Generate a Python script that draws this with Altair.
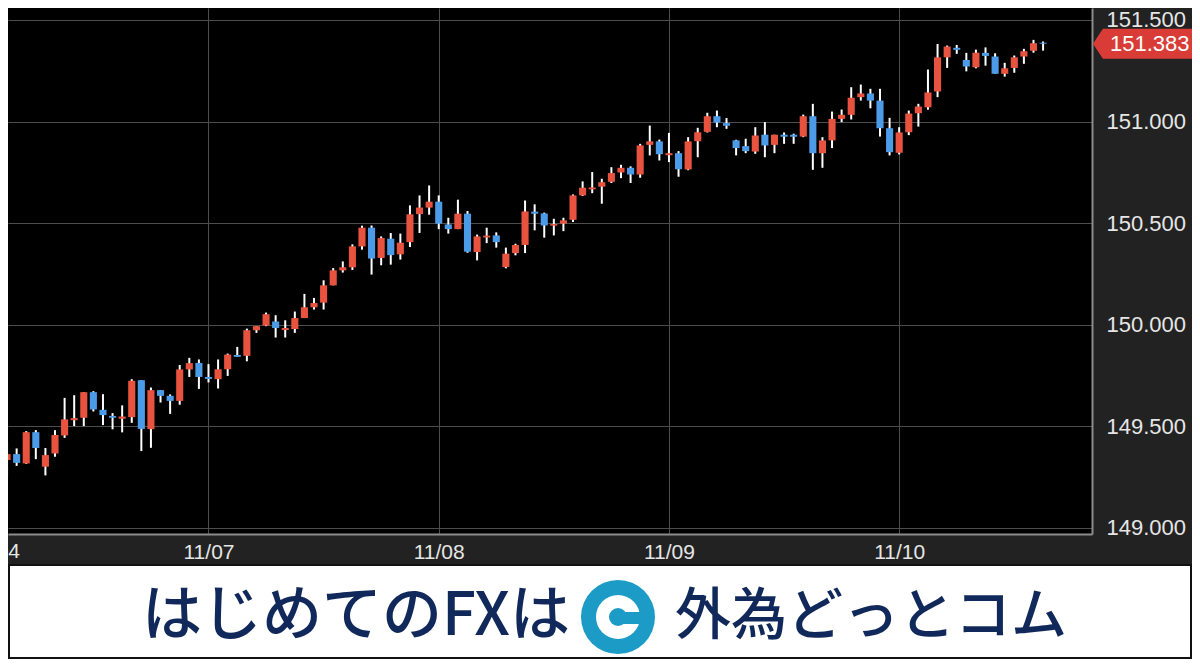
import altair as alt
import pandas as pd

# ---------------- data (hourly USD/JPY candles) ----------------
opens = [149.333, 149.362, 149.316, 149.470, 149.300, 149.365, 149.454, 149.529, 149.541, 149.667,
         149.580, 149.550, 149.536, 149.544, 149.726, 149.485, 149.677, 149.649, 149.624, 149.779,
         149.811, 149.742, 149.731, 149.780, 149.850, 149.846, 149.972, 149.995, 150.015, 149.973,
         149.978, 150.032, 150.085, 150.108, 150.193, 150.267, 150.282, 150.385, 150.477, 150.328,
         150.423, 150.346, 150.406, 150.544, 150.576, 150.605, 150.493, 150.470, 150.546, 150.357,
         150.429, 150.439, 150.283, 150.352, 150.392, 150.556, 150.547, 150.487, 150.497, 150.516,
         150.636, 150.666, 150.679, 150.703, 150.749, 150.772, 150.739, 150.885, 150.902, 150.834,
         150.844, 150.764, 150.903, 150.949, 151.026, 150.992, 150.907, 150.879, 150.852, 150.935,
         150.885, 150.935, 150.935, 150.926, 151.026, 150.844, 150.907, 151.013, 151.033, 151.120,
         151.138, 151.103, 150.967, 150.846, 150.947, 151.041, 151.070, 151.148, 151.316, 151.363,
         151.303, 151.267, 151.338, 151.320, 151.235, 151.264, 151.320, 151.349, 151.388]
closes = [149.362, 149.319, 149.470, 149.392, 149.357, 149.456, 149.533, 149.539, 149.667, 149.582,
          149.554, 149.541, 149.547, 149.723, 149.486, 149.677, 149.649, 149.624, 149.779, 149.810,
          149.742, 149.732, 149.780, 149.852, 149.841, 149.972, 149.992, 150.051, 149.983, 149.983,
          150.032, 150.085, 150.106, 150.193, 150.267, 150.282, 150.385, 150.477, 150.325, 150.426,
          150.342, 150.403, 150.543, 150.576, 150.605, 150.497, 150.470, 150.546, 150.359, 150.434,
          150.438, 150.406, 150.349, 150.392, 150.557, 150.546, 150.488, 150.495, 150.513, 150.636,
          150.674, 150.675, 150.701, 150.746, 150.772, 150.739, 150.882, 150.902, 150.839, 150.844,
          150.765, 150.902, 150.947, 151.026, 150.995, 150.979, 150.869, 150.854, 150.931, 150.882,
          150.935, 150.925, 150.925, 151.026, 150.844, 150.907, 151.013, 151.033, 151.117, 151.138,
          151.103, 150.967, 150.849, 150.946, 151.039, 151.074, 151.143, 151.316, 151.369, 151.353,
          151.271, 151.339, 151.323, 151.235, 151.262, 151.316, 151.346, 151.385, 151.383]
highs = [149.420, 149.390, 149.475, 149.480, 149.392, 149.480, 149.639, 149.652, 149.667, 149.672,
         149.657, 149.564, 149.602, 149.731, 149.726, 149.690, 149.677, 149.656, 149.801, 149.836,
         149.828, 149.805, 149.828, 149.857, 149.890, 149.980, 149.992, 150.059, 150.046, 150.021,
         150.064, 150.151, 150.131, 150.218, 150.278, 150.311, 150.395, 150.487, 150.488, 150.434,
         150.451, 150.448, 150.587, 150.636, 150.685, 150.636, 150.526, 150.615, 150.559, 150.443,
         150.477, 150.454, 150.379, 150.398, 150.611, 150.592, 150.551, 150.521, 150.526, 150.641,
         150.705, 150.751, 150.718, 150.775, 150.787, 150.779, 150.890, 150.980, 150.911, 150.944,
         150.854, 150.923, 150.969, 151.043, 151.054, 151.017, 150.910, 150.915, 150.972, 150.997,
         150.935, 150.946, 150.940, 151.034, 151.087, 150.923, 151.049, 151.059, 151.169, 151.182,
         151.161, 151.161, 151.018, 150.972, 151.054, 151.087, 151.256, 151.382, 151.374, 151.377,
         151.338, 151.354, 151.365, 151.336, 151.289, 151.325, 151.358, 151.402, 151.394]
lows = [149.250, 149.304, 149.314, 149.337, 149.257, 149.349, 149.442, 149.500, 149.500, 149.572,
        149.505, 149.484, 149.469, 149.516, 149.377, 149.393, 149.616, 149.560, 149.605, 149.742,
        149.683, 149.715, 149.685, 149.747, 149.841, 149.819, 149.959, 149.992, 149.936, 149.936,
        149.959, 150.032, 150.074, 150.074, 150.193, 150.256, 150.269, 150.369, 150.246, 150.292,
        150.295, 150.320, 150.382, 150.451, 150.541, 150.470, 150.448, 150.470, 150.354, 150.316,
        150.401, 150.379, 150.277, 150.341, 150.352, 150.464, 150.428, 150.439, 150.460, 150.505,
        150.633, 150.647, 150.595, 150.697, 150.721, 150.697, 150.723, 150.833, 150.808, 150.800,
        150.728, 150.760, 150.824, 150.946, 150.972, 150.964, 150.833, 150.844, 150.841, 150.824,
        150.844, 150.890, 150.890, 150.923, 150.762, 150.772, 150.869, 150.997, 151.010, 151.103,
        151.065, 150.926, 150.833, 150.838, 150.933, 150.975, 151.058, 151.120, 151.264, 151.333,
        151.247, 151.262, 151.275, 151.235, 151.221, 151.240, 151.284, 151.339, 151.349]

day_index = [21, 45, 69, 93]
day_labels = ["11/07", "11/08", "11/09", "11/10"]
prev_day_label = ["11/04"]
y_ticks = [149.0, 149.5, 150.0, 150.5, 151.0, 151.5]
banner_left = ["はじめてのFXは"]
banner_right = ["外為どっとコム"]

# ---------------- styling ----------------
RED = "#E8533F"
BLUE = "#4C9BE8"
TAG_RED = "#D93C36"
NAVY = "#10285A"
LOGO = "#1B9BC6"
LABEL = "#E6E6E6"
FONT = "Liberation Sans"
JFONT = "Noto Sans CJK JP"

W, H = 1084, 526
PAD_R, PAD_B = 100, 125

n = len(opens)
df = pd.DataFrame({"i": list(range(n)), "open": opens, "high": highs,
                   "low": lows, "close": closes})

label_expr = " : ".join(f"datum.value == {v} ? '{l}'" for v, l in zip(day_index, day_labels)) + " : ''"

xscale = alt.Scale(domain=[0.1, 113.1], nice=False, zero=False)
yscale = alt.Scale(domain=[148.9685, 151.559], nice=False, zero=False)
xaxis = alt.Axis(values=day_index, labelExpr=label_expr, title=None, grid=True,
                 gridColor="#4d4d4d", gridWidth=1, ticks=False, domainColor="#8c8c8c",
                 domainWidth=2, labelColor=LABEL, labelFontSize=21, labelFont=FONT,
                 labelPadding=7, labelFlush=False, labelOverlap=False)
yaxis = alt.Axis(orient="right", values=y_ticks, format=".3f", title=None, grid=True,
                 gridColor="#4d4d4d", gridWidth=1, ticks=False, domainColor="#8c8c8c",
                 domainWidth=2, labelColor=LABEL, labelFontSize=22, labelFont=FONT,
                 labelPadding=14, labelFlush=False, labelOverlap=False)

base = alt.Chart(df)

wicks = base.mark_rule(color="#ffffff", strokeWidth=2, clip=True).encode(
    x=alt.X("i:Q", scale=xscale, axis=xaxis),
    y=alt.Y("low:Q", scale=yscale, axis=yaxis),
    y2="high:Q",
)

bodies = base.transform_calculate(
    x0="datum.i - 0.37", x1="datum.i + 0.37",
    top="max(datum.open, datum.close)", bot="min(datum.open, datum.close)",
    up="datum.close >= datum.open ? 'up' : 'down'",
).mark_rect(clip=True).encode(
    x=alt.X("x0:Q", scale=xscale, axis=xaxis),
    x2="x1:Q",
    y=alt.Y("bot:Q", scale=yscale, axis=yaxis),
    y2="top:Q",
    color=alt.Color("up:N", scale=alt.Scale(domain=["up", "down"], range=[RED, BLUE]), legend=None),
)

TAG_PATH = "M-1,0L-0.8,-0.303L1,-0.303L1,0.303L-0.8,0.303Z"
last = base.transform_filter(f"datum.i == {n - 1}")
tag = last.mark_point(shape=TAG_PATH, filled=True, fill=TAG_RED, opacity=1,
                      size=99 * 99, strokeWidth=0).encode(
    x=alt.value(1134.5),
    y=alt.Y("close:Q", scale=yscale, axis=yaxis),
)
tag_text = last.mark_text(align="left", baseline="middle", font=FONT, fontSize=22,
                          color="#ffffff").encode(
    x=alt.value(1102),
    y=alt.Y("close:Q", scale=yscale, axis=yaxis),
    text=alt.Text("close:Q", format=".3f"),
)

prev_label = alt.Chart(pd.DataFrame({"label": prev_day_label})).mark_text(
    align="right", baseline="top", font=FONT, fontSize=21, color=LABEL
).encode(x=alt.value(12), y=alt.value(H + 7), text="label:N")

# ---------------- banner ----------------
one = pd.DataFrame({"a": [0]})
banner_box = alt.Chart(one).mark_rect(fill="#ffffff", stroke="#111111", strokeWidth=2).encode(
    x=alt.value(1), x2=alt.value(W + PAD_R - 1), y=alt.value(H + 31), y2=alt.value(H + PAD_B - 1)
)
txt_left = alt.Chart(pd.DataFrame({"t": banner_left})).mark_text(
    align="right", baseline="middle", font=JFONT, fontSize=60, fontWeight=500, color=NAVY
).encode(x=alt.value(562), y=alt.value(609), text="t:N")
txt_right = alt.Chart(pd.DataFrame({"t": banner_right})).mark_text(
    align="left", baseline="middle", font=JFONT, fontSize=56, fontWeight=500, color=NAVY
).encode(x=alt.value(667), y=alt.value(609), text="t:N")

logo_outer = alt.Chart(one).mark_point(shape="circle", filled=True, opacity=1, color=LOGO,
                                       size=74 * 74).encode(x=alt.value(610), y=alt.value(609))
logo_ring = alt.Chart(one).mark_point(shape="circle", filled=True, opacity=1, color="#ffffff",
                                      size=44 * 44).encode(x=alt.value(610), y=alt.value(609))
logo_core = alt.Chart(one).mark_point(shape="circle", filled=True, opacity=1, color=LOGO,
                                      size=18 * 18).encode(x=alt.value(610), y=alt.value(609))
logo_bar = alt.Chart(one).mark_rect(color=LOGO).encode(
    x=alt.value(610), x2=alt.value(635), y=alt.value(604), y2=alt.value(616)
)

chart = alt.layer(
    wicks, bodies, tag, tag_text, prev_label,
    banner_box, txt_left, txt_right, logo_outer, logo_ring, logo_core, logo_bar,
).properties(
    width=W, height=H, background="#222222",
    padding={"left": 0, "top": 0, "right": PAD_R, "bottom": PAD_B},
    autosize=alt.AutoSizeParams(type="none"),
).configure_view(fill="#000000", strokeWidth=0)

chart.save("out.html", embed_options={"renderer": "svg", "actions": False})
